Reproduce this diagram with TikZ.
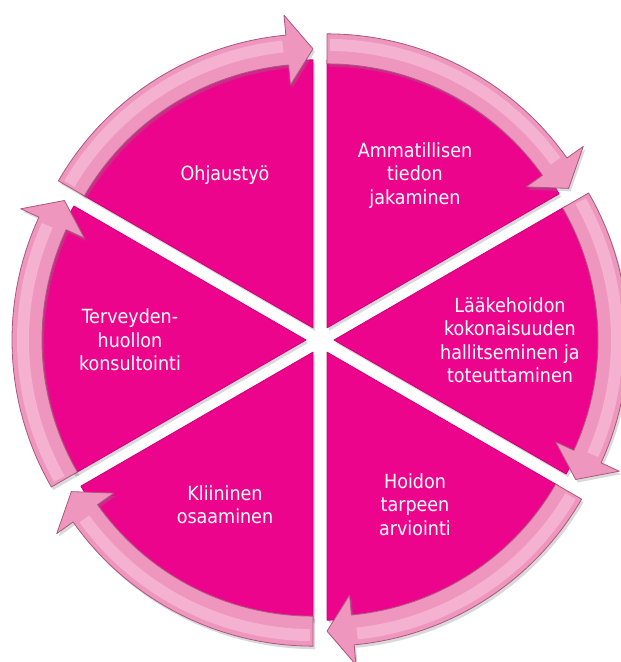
\documentclass[tikz,border=0pt]{standalone}
\usepackage{fontspec}
\setmainfont{DejaVu Sans Condensed}
\usetikzlibrary{shadows}

\definecolor{segpink}{RGB}{237,4,140}
\definecolor{segedge}{RGB}{205,0,120}
\definecolor{arrowpink}{RGB}{238,150,190}
\definecolor{arrowlight}{RGB}{250,205,226}
\definecolor{arrowedge}{RGB}{170,88,126}

\tikzset{
  segment/.style={fill=segpink, draw=segedge, line width=0.8bp, line join=round,
    drop shadow={opacity=0.3, shadow xshift=2bp, shadow yshift=-3bp}},
  cyclearrow/.style={fill=arrowpink, draw=arrowedge, line width=0.8bp, line join=round,
    drop shadow={opacity=0.3, shadow xshift=2bp, shadow yshift=-3bp}},
  bandshine/.style={draw=arrowlight, line width=12bp, opacity=0.5},
  cycletext/.style={text=white, align=center, inner sep=0pt,
    font=\fontsize{19.5bp}{23.5bp}\selectfont}
}

\begin{document}
\begin{tikzpicture}[x=1bp, y=1bp]
\useasboundingbox (-320,-322) rectangle (301,340);

% six exploded segments, each with its clockwise arrow
\foreach \a/\nm/\txt in {
    90/ohjaus/{Ohjausty\"o},
    30/tieto/{Ammatillisen\\tiedon\\jakaminen},
    -30/laake/{L\"a\"akehoidon\\kokonaisuuden\\hallitseminen ja\\toteuttaminen},
    -90/hoito/{Hoidon\\tarpeen\\arviointi},
    -150/kliin/{Kliininen\\osaaminen},
    150/konsul/{Terveyden-\\huollon\\konsultointi}} {
  \pgfmathsetmacro\mid{\a+30}
  \pgfmathsetmacro\e{\a+60}
  \pgfmathsetmacro\h{\a+5.3}
  \begin{scope}[shift={(\mid:14)}]
    % wedge
    \path[segment] (0,0) -- (\a:268) arc[start angle=\a, end angle=\e, radius=268] -- cycle;
    % curved arrow along the rim
    \path[cyclearrow] (\e:264) arc[start angle=\e, end angle=\h, radius=264]
      -- (\h:244) -- (\a:279) -- (\h:314) -- (\h:294)
      arc[start angle=\h, end angle=\e, radius=294] -- cycle;
    \draw[bandshine] (\e-0.6:283) arc[start angle=\e-0.6, end angle=\h+0.8, radius=283];
  \end{scope}
  \node[cycletext] (\nm) at (\mid:190) {\txt};
}
\end{tikzpicture}
\end{document}
